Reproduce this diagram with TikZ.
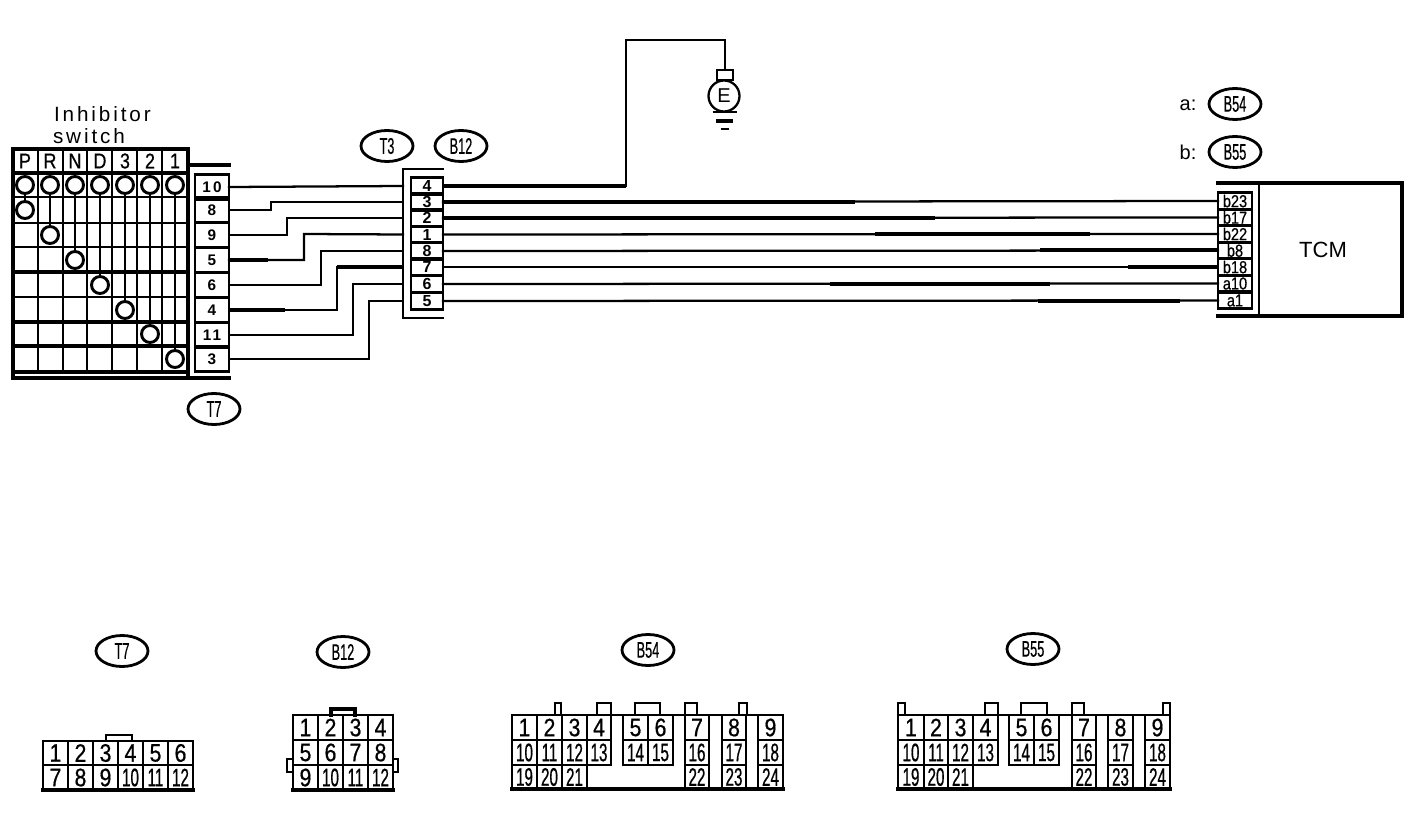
\documentclass[tikz,border=0pt]{standalone}
\usepackage{fontspec}
\usetikzlibrary{shapes.geometric}
\setmainfont{Liberation Sans}
\newfontfamily\wideface[LetterSpace=14]{Liberation Sans}
\newfontfamily\condface[FakeStretch=0.84,FakeBold=0.6]{Liberation Sans}
\newfontfamily\narrowface[FakeStretch=0.6,FakeBold=0.6]{Liberation Sans}
\newfontfamily\tagface[FakeStretch=0.56,FakeBold=0.5]{Liberation Sans}
\newcommand{\pxu}{0.75pt}
\tikzset{
  wire/.style={line width=1.7pt,line join=miter,line cap=rect},
  thickwire/.style={line width=3pt,line join=miter,line cap=butt},
  outline/.style={line width=2.1pt,line join=miter,line cap=rect},
  gridthin/.style={line width=1.9pt,line cap=rect},
  gridedge/.style={line width=2.6pt,line cap=rect,line join=miter},
  gridthick/.style={line width=3pt,line cap=rect},
  cell/.style={draw,rectangle,line width=2.1pt,inner sep=0pt,outer sep=0pt},
  tcell/.style={cell,minimum width=34*\pxu,minimum height=24.5*\pxu,font=\bfseries\wideface\fontsize{11.5pt}{12pt}\selectfont},
  bcell/.style={cell,minimum width=32*\pxu,minimum height=16.4*\pxu,font=\bfseries\fontsize{12pt}{12pt}\selectfont},
  tcmcell/.style={cell,minimum width=34*\pxu,minimum height=16.4*\pxu,font=\condface\fontsize{13pt}{13pt}\selectfont},
  tag/.style={draw,ellipse,line width=2.1pt,minimum width=52*\pxu,minimum height=31*\pxu,inner sep=0pt,font=\tagface\fontsize{17pt}{17pt}\selectfont},
  swcircle/.style={draw,circle,fill=white,line width=2.2pt,minimum size=17*\pxu,inner sep=0pt,outer sep=0pt},
  big/.style={cell,font=\condface\fontsize{19pt}{19pt}\selectfont},
  small/.style={cell,font=\narrowface\fontsize{19pt}{19pt}\selectfont},
  keytab/.style={draw,line width=1.9pt,fill=white,rectangle,inner sep=0pt},
  plain/.style={inner sep=0pt,outer sep=0pt}
}
\newcommand{\pinbox}[7]{%
  \node[#1,minimum width={(#4-(#3))*\pxu},minimum height={(#6-(#5))*\pxu}] (#2) at ({(#3+#4)/2},{(#5+#6)/2}) {#7};}
\begin{document}
\begin{tikzpicture}[x=0.75pt,y=-0.75pt]
\useasboundingbox (0,0) rectangle (1408,830);
\fill[white] (0,0) rectangle (1408,830);

% ---- Inhibitor switch table
\node[plain,anchor=west,font=\wideface\fontsize{15.5pt}{16pt}\selectfont] (swa) at (54,114) {Inhibitor};
\node[plain,anchor=west,font=\wideface\fontsize{15.5pt}{16pt}\selectfont] (swb) at (53,136) {switch};
\foreach \yy in {197,223,247,297}
  \draw[gridthin] (13,\yy) -- (188,\yy);
\foreach \yy in {272,322,346}
  \draw[gridthick] (13,\yy) -- (188,\yy);
\foreach \yy in {149,173,372,378}
  \draw[gridedge] (13,\yy) -- (188,\yy);
\foreach \xx in {38,63,87,112,137,162}
  \draw[gridthin] (\xx,149) -- (\xx,372);
\draw[gridedge] (13,149) -- (13,378);
\draw[gridedge] (188,149) -- (188,378);
\foreach \n/\xx/\lab in {P/25/P,R/50/R,N/75/N,D/100/D,Th/125/3,Tw/150/2,On/175/1}
  \node[plain,font=\condface\fontsize{16pt}{16pt}\selectfont] (h\n) at (\xx,161) {\lab};
\foreach \n/\xx/\ya/\yb in {P/25/185/210,R/50/185/235,N/75/185/260,D/100/185/285,Th/125/185/310,Tw/150/185/334,On/175/185/359}{
  \node[swcircle] (ct\n) at (\xx,\ya) {};
  \node[swcircle] (cb\n) at (\xx,\yb) {};
  \draw[gridthin] (ct\n) -- (cb\n);
}

% ---- T7 pin block
\draw[gridedge] (188,165) -- (229,165);
\draw[gridedge] (188,378) -- (229,378);
\foreach \n/\yy in {10/187,8/210,9/235,5/260,6/285,4/310,11/335,3/359}
  \node[tcell] (t\n) at (212,\yy) {\n};

% ---- B12 pin block
\node[plain,minimum width=40*\pxu,minimum height=149*\pxu] (shell) at (423,243.5) {};
\draw[outline] (shell.north east) -- (shell.north west) -- (shell.south west) -- (shell.south east);
\foreach \n/\yy in {4/186,3/202,2/218,1/234.5,8/251,7/267,6/284,5/301}
  \node[bcell] (b\n) at (427,\yy) {\n};

% ---- Wires T7 -> B12
\coordinate (j8) at (271,202);
\coordinate (j9) at (287,218);
\coordinate (j5) at (304,234);
\coordinate (j6) at (321,251);
\coordinate (j4) at (337,267);
\coordinate (j11) at (353,284);
\coordinate (j3) at (369,301);
\draw[wire] (t10.east) -- (b4 -| shell.west);
\draw[wire] (t8.east) -| (j8) -- (b3 -| shell.west);
\draw[wire] (t9.east) -| (j9) -- (b2 -| shell.west);
\draw[wire] (t5.east) -| (j5) -- (b1 -| shell.west);
\draw[wire] (t6.east) -| (j6) -- (b8 -| shell.west);
\draw[wire] (t4.east) -| (j4) -- (b7 -| shell.west);
\draw[wire] (t11.east) -| (j11) -- (b6 -| shell.west);
\draw[wire] (t3.east) -| (j3) -- (b5 -| shell.west);
\draw[thickwire] (t5.east) -- ++(39,0);
\draw[thickwire] (t4.east) -- ++(56,0);
\draw[thickwire] (j4) -- (b7 -| shell.west);

% ---- TCM
\node[plain,minimum width=184*\pxu,minimum height=133*\pxu] (tcm) at (1310,249.5) {};
\draw[gridedge] (tcm.north west) -- (tcm.north east) -- (tcm.south east) -- (tcm.south west);
\draw[outline] (1259,183) -- (1259,316);
\node[plain,font=\fontsize{16.5pt}{17pt}\selectfont] (tcmlabel) at (1323,250) {TCM};
\foreach \n/\lab/\yy in {p1/b23/201,p2/b17/217.5,p3/b22/234,p4/b8/250.5,p5/b18/267,p6/a10/283.5,p7/a1/300.5}
  \node[tcmcell] (\n) at (1235,\yy) {\lab};

% ---- Wires B12 -> TCM and earth
\coordinate (gup) at (626,40);
\node[draw,rectangle,line width=1.7pt,minimum width=16*\pxu,minimum height=10*\pxu,inner sep=0pt,outer sep=0pt] (ecap) at (725,75) {};
\node[draw,circle,line width=1.7pt,minimum size=31*\pxu,inner sep=0pt,fill=white,font=\fontsize{15pt}{15pt}\selectfont] (egnd) at (724,96) {E};
\coordinate (g1) at (724.5,112);
\coordinate (g2) at (724.5,121);
\coordinate (g3) at (724.5,129);
\draw[line width=2pt] ([xshift=-12*\pxu]g1) -- ([xshift=12*\pxu]g1);
\draw[line width=2.6pt] ([xshift=-8.5*\pxu]g2) -- ([xshift=8.5*\pxu]g2);
\draw[line width=2pt] ([xshift=-4*\pxu]g3) -- ([xshift=4*\pxu]g3);
\coordinate (gcorner) at (626,186);
\draw[thickwire] (b4.east) -- (gcorner);
\draw[wire] (gcorner) -- (gup) -| (ecap.north);
\draw[wire] (b3.east) -- (p1.west);
\draw[wire] (b2.east) -- (p2.west);
\draw[wire] (b1.east) -- (p3.west);
\draw[wire] (b8.east) -- (p4.west);
\draw[wire] (b7.east) -- (p5.west);
\draw[wire] (b6.east) -- (p6.west);
\draw[wire] (b5.east) -- (p7.west);
\draw[thickwire] (b3.east) -- ++(412,0);
\draw[thickwire] (b2.east) -- ++(492,0);
\draw[thickwire] (b1.east) ++(432,0) -- ++(215,0);
\draw[thickwire] (p4.west) -- ++(-178,0);
\draw[thickwire] (p5.west) -- ++(-90,0);
\draw[thickwire] (b6.east) ++(387,0) -- ++(220,0);
\draw[thickwire] (b5.east) ++(595,0) -- ++(142,0);

% ---- Reference tags
\node[tag] (tagT3) at (387,146) {T3};
\node[tag] (tagB12) at (461,146) {B12};
\node[tag] (tagT7) at (214,409) {T7};
\node[plain,font=\fontsize{15pt}{15pt}\selectfont] (alab) at (1188,105) {a:};
\node[plain,font=\fontsize{15pt}{15pt}\selectfont] (blab) at (1188,152) {b:};
\node[tag] (tagB54) at (1235,104) {B54};
\node[tag] (tagB55) at (1235,152) {B55};
\node[tag] (vT7) at (122,651) {T7};
\node[tag] (vB12) at (343,652) {B12};
\node[tag] (vB54) at (648,650) {B54};
\node[tag] (vB55) at (1033,649) {B55};

% ---- T7 face view
\draw[keytab] (106,741) -- (106,735) -- (132,735) -- (132,741);
\foreach \n [count=\i from 0] in {1,...,6}
  {\pinbox{big}{ft\n}{43+25*\i}{68+25*\i}{741}{765}{\n}}
\foreach \n [count=\i from 0] in {7,8,9}
  {\pinbox{big}{ft\n}{43+25*\i}{68+25*\i}{765}{790}{\n}}
\foreach \n [count=\i from 3] in {10,11,12}
  {\pinbox{small}{ft\n}{43+25*\i}{68+25*\i}{765}{790}{\n}}
\draw[gridedge] (43,790) -- (193,790);

% ---- B12 face view
\draw[gridedge] (331,715) -- (331,709) -- (355,709) -- (355,715);
\draw[keytab] (293,759) -- (287,759) -- (287,772) -- (293,772);
\draw[keytab] (393,759) -- (398,759) -- (398,772) -- (393,772);
\foreach \n [count=\i from 0] in {1,2,3,4}
  {\pinbox{big}{fb\n}{293+25*\i}{318+25*\i}{715}{740}{\n}}
\foreach \n [count=\i from 0] in {5,6,7,8}
  {\pinbox{big}{fb\n}{293+25*\i}{318+25*\i}{740}{765}{\n}}
\pinbox{big}{fb9}{293}{318}{765}{790}{9}
\foreach \n [count=\i from 1] in {10,11,12}
  {\pinbox{small}{fb\n}{293+25*\i}{318+25*\i}{765}{790}{\n}}
\draw[gridedge] (293,790) -- (393,790);

% ---- B54 face view
\draw[keytab] (555,715) -- (555,703) -- (561,703) -- (561,715);
\draw[keytab] (597,715) -- (597,703) -- (611,703) -- (611,715);
\draw[keytab] (635,715) -- (635,703) -- (660,703) -- (660,715);
\draw[keytab] (685,715) -- (685,703) -- (697,703) -- (697,715);
\draw[keytab] (739,715) -- (739,703) -- (747,703) -- (747,715);
\foreach \n/\a/\b in {1/512/537,2/537/562,3/562/587,4/587/611,5/623/648,6/648/673,7/685/709,8/722/746,9/758/783}
  {\pinbox{big}{fc\n}{\a}{\b}{715}{740}{\n}}
\foreach \n/\a/\b in {10/512/537,11/537/562,12/562/587,13/587/611,14/623/648,15/648/673,16/685/709,17/722/746,18/758/783}
  {\pinbox{small}{fc\n}{\a}{\b}{740}{765}{\n}}
\foreach \n/\a/\b in {19/512/537,20/537/562,21/562/587,22/685/709,23/722/746,24/758/783}
  {\pinbox{small}{fc\n}{\a}{\b}{765}{789}{\n}}
\draw[outline] (512,715) -- (783,715);
\draw[gridedge] (512,789) -- (783,789);

% ---- B55 face view
\draw[keytab] (898,715) -- (898,703) -- (905,703) -- (905,715);
\draw[keytab] (985,715) -- (985,703) -- (998,703) -- (998,715);
\draw[keytab] (1021,715) -- (1021,703) -- (1047,703) -- (1047,715);
\draw[keytab] (1072,715) -- (1072,703) -- (1084,703) -- (1084,715);
\draw[keytab] (1163,715) -- (1163,703) -- (1170,703) -- (1170,715);
\foreach \n/\a/\b in {1/898/924,2/924/948,3/948/973,4/973/998,5/1009/1034,6/1034/1059,7/1072/1096,8/1108/1133,9/1145/1170}
  {\pinbox{big}{fd\n}{\a}{\b}{715}{740}{\n}}
\foreach \n/\a/\b in {10/898/924,11/924/948,12/948/973,13/973/998,14/1009/1034,15/1034/1059,16/1072/1096,17/1108/1133,18/1145/1170}
  {\pinbox{small}{fd\n}{\a}{\b}{740}{765}{\n}}
\foreach \n/\a/\b in {19/898/924,20/924/948,21/948/973,22/1072/1096,23/1108/1133,24/1145/1170}
  {\pinbox{small}{fd\n}{\a}{\b}{765}{789}{\n}}
\draw[outline] (898,715) -- (1170,715);
\draw[gridedge] (898,789) -- (1170,789);
\end{tikzpicture}
\end{document}
